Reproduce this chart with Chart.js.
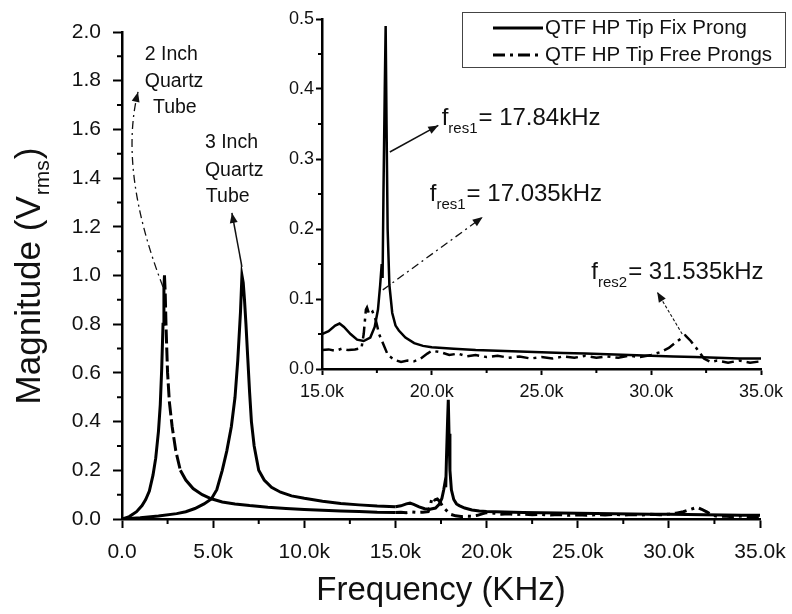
<!DOCTYPE html>
<html>
<head>
<meta charset="utf-8">
<script src="https://cdn.jsdelivr.net/npm/chart.js@4.4.1/dist/chart.umd.min.js"></script>
<style>
  body { margin: 0; background: #fff; }
  #wrap { position: relative; width: 792px; height: 614px; }
  #main { position: absolute; left: 0; top: 0; }
  #inset { position: absolute; left: 270px; top: 0; }
</style>
</head>
<body>
<div id="wrap">
  <canvas id="main" width="792" height="614"></canvas>
  <canvas id="inset" width="522" height="410"></canvas>
</div>
<script>
// frequencies in kHz, magnitudes in V rms
var tube2Freq = [0, 0.4, 0.8, 1.1, 1.3, 1.5, 1.7, 1.85, 2.0, 2.1, 2.18, 2.25, 2.3, 2.33, 2.37, 2.42, 2.5, 2.6, 2.75, 2.95, 3.2, 3.5, 3.9, 4.4, 4.9, 5.5, 6.2, 7.0, 8.0, 9.0, 10.0, 11.0, 12.0, 13.0, 14.0, 15.0];
var tube2Mag  = [0, 0.01, 0.03, 0.055, 0.08, 0.115, 0.18, 0.25, 0.36, 0.47, 0.62, 0.8, 0.95, 1.0, 0.93, 0.78, 0.6, 0.48, 0.38, 0.28, 0.2, 0.16, 0.125, 0.1, 0.083, 0.07, 0.062, 0.055, 0.048, 0.043, 0.039, 0.036, 0.033, 0.031, 0.028, 0.027];

var tube3Freq = [0, 1, 2, 3, 3.5, 4, 4.5, 4.9, 5.2, 5.5, 5.75, 6.0, 6.2, 6.35, 6.5, 6.58, 6.65, 6.72, 6.8, 6.9, 7.0, 7.1, 7.25, 7.5, 7.8, 8.2, 8.7, 9.3, 10, 11, 12, 13, 14, 15];
var tube3Mag  = [0, 0.005, 0.012, 0.022, 0.03, 0.043, 0.062, 0.082, 0.12, 0.2, 0.28, 0.38, 0.5, 0.65, 0.85, 1.0, 0.97, 0.9, 0.8, 0.66, 0.52, 0.4, 0.3, 0.2, 0.16, 0.13, 0.11, 0.095, 0.085, 0.073, 0.064, 0.058, 0.053, 0.05];

var fixFreq = [15.0, 15.3, 15.6, 15.8, 16.0, 16.3, 16.6, 16.9, 17.2, 17.4, 17.55, 17.65, 17.72, 17.76, 17.8, 17.86, 17.9, 17.94, 17.99, 18.07, 18.2, 18.35, 18.5, 18.8, 19.2, 19.6, 20, 21, 22, 23, 24, 25, 26, 27, 28, 29, 30, 31, 32, 33, 34, 35];
var fixMag  = [0.05, 0.054, 0.062, 0.065, 0.06, 0.05, 0.042, 0.04, 0.045, 0.06, 0.085, 0.12, 0.15, 0.13, 0.25, 0.4, 0.49, 0.35, 0.2, 0.12, 0.08, 0.062, 0.055, 0.045, 0.037, 0.033, 0.031, 0.029, 0.027, 0.026, 0.025, 0.024, 0.023, 0.022, 0.021, 0.02, 0.019, 0.018, 0.017, 0.016, 0.015, 0.015];

var freeFreq = [15.0, 15.3, 15.6, 15.9, 16.2, 16.5, 16.8, 16.9, 17.0, 17.05, 17.15, 17.3, 17.45, 17.6, 17.8, 18.0, 18.3, 18.6, 18.9, 19.2, 19.5, 19.8, 20.0, 20.4, 20.8, 21.2, 21.6, 22.0, 22.5, 23.0, 23.5, 24.0, 24.5, 25.0, 25.5, 26.0, 26.5, 27.0, 27.5, 28.0, 28.5, 29.0, 29.5, 30.0, 30.4, 30.8, 31.2, 31.55, 31.8, 32.1, 32.4, 32.7, 33.0, 33.5, 34.0, 34.5, 35.0];
var freeMag  = [0.027, 0.028, 0.026, 0.029, 0.027, 0.028, 0.03, 0.05, 0.085, 0.088, 0.078, 0.082, 0.07, 0.05, 0.035, 0.02, 0.013, 0.01, 0.012, 0.011, 0.015, 0.022, 0.026, 0.024, 0.02, 0.022, 0.018, 0.02, 0.017, 0.019, 0.016, 0.018, 0.015, 0.017, 0.015, 0.018, 0.016, 0.019, 0.016, 0.018, 0.016, 0.019, 0.017, 0.02, 0.024, 0.03, 0.04, 0.048, 0.04, 0.028, 0.015, 0.01, 0.012, 0.009, 0.012, 0.009, 0.011];

var mainXTicks = { min: 0, max: 35, step: 5, minor: 2.5 };
var mainYTicks = { min: 0, max: 2, step: 0.2, minor: 0.1 };
var insetXTicks = { min: 15, max: 35, step: 5, minor: 2.5 };
var insetYTicks = { min: 0, max: 0.5, step: 0.1, minor: 0.05 };

var FONT = "'Liberation Sans', Arial, sans-serif";
var DASHDOT = [12, 5, 3, 5];

function pts(xs, ys) {
	return xs.map(function(x, i) { return { x: x, y: ys[i] }; });
}

function kLabel(v) {
	return v === 0 ? '0.0' : v.toFixed(1) + 'k';
}

function drawArrowHead(ctx, fx, fy, tx, ty, size) {
	var a = Math.atan2(ty - fy, tx - fx);
	ctx.save();
	ctx.setLineDash([]);
	ctx.beginPath();
	ctx.moveTo(tx, ty);
	ctx.lineTo(tx - size * Math.cos(a) + size * 0.4 * Math.sin(a), ty - size * Math.sin(a) - size * 0.4 * Math.cos(a));
	ctx.lineTo(tx - size * Math.cos(a) - size * 0.4 * Math.sin(a), ty - size * Math.sin(a) + size * 0.4 * Math.cos(a));
	ctx.closePath();
	ctx.fill();
	ctx.restore();
}

function arrow(ctx, x1, y1, x2, y2, dash, width) {
	ctx.save();
	ctx.lineWidth = width || 1.3;
	ctx.setLineDash(dash || []);
	ctx.beginPath();
	ctx.moveTo(x1, y1);
	ctx.lineTo(x2, y2);
	ctx.stroke();
	drawArrowHead(ctx, x1, y1, x2, y2, 10);
	ctx.restore();
}

// f with subscript, then the rest of the label
function fLabel(ctx, x, y, sub, rest) {
	ctx.save();
	ctx.textBaseline = 'alphabetic';
	ctx.textAlign = 'left';
	ctx.font = '24px ' + FONT;
	ctx.fillText('f', x, y);
	var w = ctx.measureText('f').width;
	ctx.font = '15px ' + FONT;
	ctx.fillText(sub, x + w, y + 8);
	var w2 = ctx.measureText(sub).width;
	ctx.font = '24px ' + FONT;
	ctx.fillText(rest, x + w + w2 + 1, y);
	ctx.restore();
}

// short minor ticks between the major ones
var minorTicks = {
	id: 'minorTicks',
	afterDraw: function(chart, args, opts) {
		var ctx = chart.ctx, area = chart.chartArea;
		var sx = chart.scales.x, sy = chart.scales.y;
		ctx.save();
		ctx.strokeStyle = '#000';
		ctx.lineWidth = 2;
		ctx.beginPath();
		for (var v = opts.x.min; v <= opts.x.max + 1e-9; v += opts.x.minor) {
			var r = (v - opts.x.min) / opts.x.step;
			if (Math.abs(r - Math.round(r)) < 1e-6) continue;
			var px = sx.getPixelForValue(v);
			ctx.moveTo(px, area.bottom);
			ctx.lineTo(px, area.bottom + opts.len);
		}
		for (var w = opts.y.min; w <= opts.y.max + 1e-9; w += opts.y.minor) {
			var q = (w - opts.y.min) / opts.y.step;
			if (Math.abs(q - Math.round(q)) < 1e-6) continue;
			var py = sy.getPixelForValue(w);
			ctx.moveTo(area.left, py);
			ctx.lineTo(area.left - opts.len, py);
		}
		ctx.stroke();
		ctx.restore();
	}
};

var mainNotes = {
	id: 'mainNotes',
	afterDraw: function(chart) {
		var ctx = chart.ctx, sx = chart.scales.x, sy = chart.scales.y;
		var X = function(v) { return sx.getPixelForValue(v); };
		var Y = function(v) { return sy.getPixelForValue(v); };
		ctx.save();
		ctx.fillStyle = '#111';
		ctx.strokeStyle = '#111';
		ctx.font = '19.5px ' + FONT;
		ctx.textBaseline = 'middle';
		ctx.textAlign = 'left';
		ctx.fillText('2 Inch', X(1.25), Y(1.906));
		ctx.fillText('Quartz', X(1.25), Y(1.795));
		ctx.fillText('Tube', X(1.7), Y(1.688));
		ctx.fillText('3 Inch', X(4.55), Y(1.544));
		ctx.fillText('Quartz', X(4.55), Y(1.429));
		ctx.fillText('Tube', X(4.6), Y(1.322));

		// curved dash-dot arrow for the 2 inch tube
		var x0 = X(2.25), y0 = Y(0.953), cx = X(-0.2), cy = Y(1.43), x1 = X(0.88), y1 = Y(1.754);
		ctx.lineWidth = 1.3;
		ctx.setLineDash([8, 4, 2, 4]);
		ctx.beginPath();
		ctx.moveTo(x0, y0);
		ctx.quadraticCurveTo(cx, cy, x1, y1);
		ctx.stroke();
		drawArrowHead(ctx, cx, cy, x1, y1, 10);

		arrow(ctx, X(6.58), Y(1.035), X(6.03), Y(1.257), [], 1.5);

		// y axis title with subscript
		ctx.setLineDash([]);
		ctx.translate(30, 276);
		ctx.rotate(-Math.PI / 2);
		ctx.textBaseline = 'middle';
		ctx.font = '35px ' + FONT;
		var a = 'Magnitude (V', b = 'rms', c = ')';
		var wa = ctx.measureText(a).width, wc = ctx.measureText(c).width;
		ctx.font = '21px ' + FONT;
		var wb = ctx.measureText(b).width;
		var start = -(wa + wb + wc + 2) / 2;
		ctx.font = '35px ' + FONT;
		ctx.fillText(a, start, 0);
		ctx.fillText(c, start + wa + wb + 2, 0);
		ctx.font = '21px ' + FONT;
		ctx.fillText(b, start + wa + 1, 13);
		ctx.restore();
	}
};

var insetNotes = {
	id: 'insetNotes',
	afterDraw: function(chart) {
		var ctx = chart.ctx, sx = chart.scales.x, sy = chart.scales.y;
		var X = function(v) { return sx.getPixelForValue(v); };
		var Y = function(v) { return sy.getPixelForValue(v); };
		ctx.save();
		ctx.fillStyle = '#111';
		ctx.strokeStyle = '#111';
		fLabel(ctx, X(20.45), Y(0.349), 'res1', '= 17.84kHz');
		fLabel(ctx, X(19.91), Y(0.24), 'res1', '= 17.035kHz');
		fLabel(ctx, X(27.27), Y(0.129), 'res2', '= 31.535kHz');
		arrow(ctx, X(18.09), Y(0.31), X(20.3), Y(0.348), [], 1.5);
		arrow(ctx, X(17.77), Y(0.113), X(22.32), Y(0.217), [8, 4, 2, 4], 1.3);
		arrow(ctx, X(31.41), Y(0.05), X(30.27), Y(0.11), [3, 2], 1.1);

		// legend box
		var lx = 192, ly = 12, lw = 323, lh = 55;
		ctx.fillStyle = '#fff';
		ctx.fillRect(lx, ly, lw, lh);
		ctx.strokeStyle = '#444';
		ctx.lineWidth = 1;
		ctx.strokeRect(lx + 0.5, ly + 0.5, lw, lh);
		ctx.strokeStyle = '#000';
		ctx.lineWidth = 3;
		ctx.beginPath();
		ctx.moveTo(223, 28); ctx.lineTo(273, 28);
		ctx.stroke();
		ctx.setLineDash(DASHDOT);
		ctx.beginPath();
		ctx.moveTo(223, 55); ctx.lineTo(273, 55);
		ctx.stroke();
		ctx.setLineDash([]);
		ctx.fillStyle = '#111';
		ctx.font = '20.5px ' + FONT;
		ctx.textBaseline = 'middle';
		ctx.fillText('QTF HP Tip Fix Prong', 275, 28);
		ctx.fillText('QTF HP Tip Free Prongs', 275, 55);
		ctx.restore();
	}
};

function lineSet(label, xs, ys, dash, width, extra) {
	var d = {
		label: label,
		data: pts(xs, ys),
		borderColor: '#000',
		borderWidth: width,
		borderDash: dash,
		pointRadius: 0,
		fill: false,
		tension: 0
	};
	for (var k in extra) d[k] = extra[k];
	return d;
}

function axes(xt, yt, o) {
	return {
		x: {
			type: 'linear', min: xt.min, max: xt.max,
			afterFit: function(s) {
				s.height = o.xh;
				s.paddingLeft = 0;
				s.paddingRight = 0;
			},
			afterBuildTicks: function(s) {
				s.ticks = [];
				for (var v = xt.min; v <= xt.max + 1e-9; v += xt.step) s.ticks.push({ value: +v.toFixed(3) });
			},
			ticks: { callback: kLabel, font: { family: FONT, size: o.fs }, color: '#111', padding: o.xpad, maxRotation: 0, autoSkip: false },
			grid: { drawOnChartArea: false, tickLength: o.xtick, tickWidth: 2, tickColor: '#000' },
			border: { color: '#000', width: 2.5 },
			title: o.xtitle
		},
		y: {
			min: yt.min, max: yt.max,
			afterFit: function(s) { s.width = o.yw; },
			afterBuildTicks: function(s) {
				s.ticks = [];
				for (var v = yt.min; v <= yt.max + 1e-9; v += yt.step) s.ticks.push({ value: +v.toFixed(3) });
			},
			ticks: { callback: function(v) { return v.toFixed(1); }, font: { family: FONT, size: o.fs }, color: '#111', padding: o.ypad, autoSkip: false },
			grid: { drawOnChartArea: false, tickLength: o.ytick, tickWidth: 2, tickColor: '#000' },
			border: { color: '#000', width: 2.5 }
		}
	};
}

window.onload = function() {
	var tube2Dash = function(c) {
		return (c.p0.parsed.x >= 2.33 && c.p1.parsed.y > 0.18) ? [14, 4] : undefined;
	};

	new Chart(document.getElementById('main').getContext('2d'), {
		type: 'line',
		data: {
			datasets: [
				lineSet('2 Inch Quartz Tube', tube2Freq, tube2Mag, [], 3, { segment: { borderDash: tube2Dash } }),
				lineSet('3 Inch Quartz Tube', tube3Freq, tube3Mag, [], 3),
				lineSet('QTF HP Tip Fix Prong', fixFreq, fixMag, [], 3),
				lineSet('QTF HP Tip Free Prongs', freeFreq, freeMag, DASHDOT, 3)
			]
		},
		options: {
			responsive: false,
			animation: false,
			layout: { padding: { left: 0, top: 32, right: 32, bottom: 0 } },
			plugins: {
				legend: { display: false },
				tooltip: { enabled: false },
				minorTicks: { x: mainXTicks, y: mainYTicks, len: 5 }
			},
			scales: axes(mainXTicks, mainYTicks, {
				xh: 95, yw: 122, fs: 21, xpad: 12, ypad: 12, xtick: 9, ytick: 9,
				xtitle: { display: true, text: 'Frequency (KHz)', color: '#111', font: { family: FONT, size: 33 }, padding: { top: 0, bottom: 3 } }
			})
		},
		plugins: [minorTicks, mainNotes]
	});

	new Chart(document.getElementById('inset').getContext('2d'), {
		type: 'line',
		data: {
			datasets: [
				lineSet('QTF HP Tip Fix Prong', fixFreq, fixMag, [], 2.5),
				lineSet('QTF HP Tip Free Prongs', freeFreq, freeMag, DASHDOT, 2.5)
			]
		},
		options: {
			responsive: false,
			animation: false,
			layout: { padding: { left: 0, top: 19, right: 31, bottom: 0 } },
			plugins: {
				legend: { display: false },
				tooltip: { enabled: false },
				minorTicks: { x: insetXTicks, y: insetYTicks, len: 4 }
			},
			scales: axes(insetXTicks, insetYTicks, {
				xh: 41, yw: 52, fs: 18, xpad: 6, ypad: 2, xtick: 6, ytick: 6,
				xtitle: { display: false }
			})
		},
		plugins: [minorTicks, insetNotes]
	});
};
</script>
</body>
</html>
